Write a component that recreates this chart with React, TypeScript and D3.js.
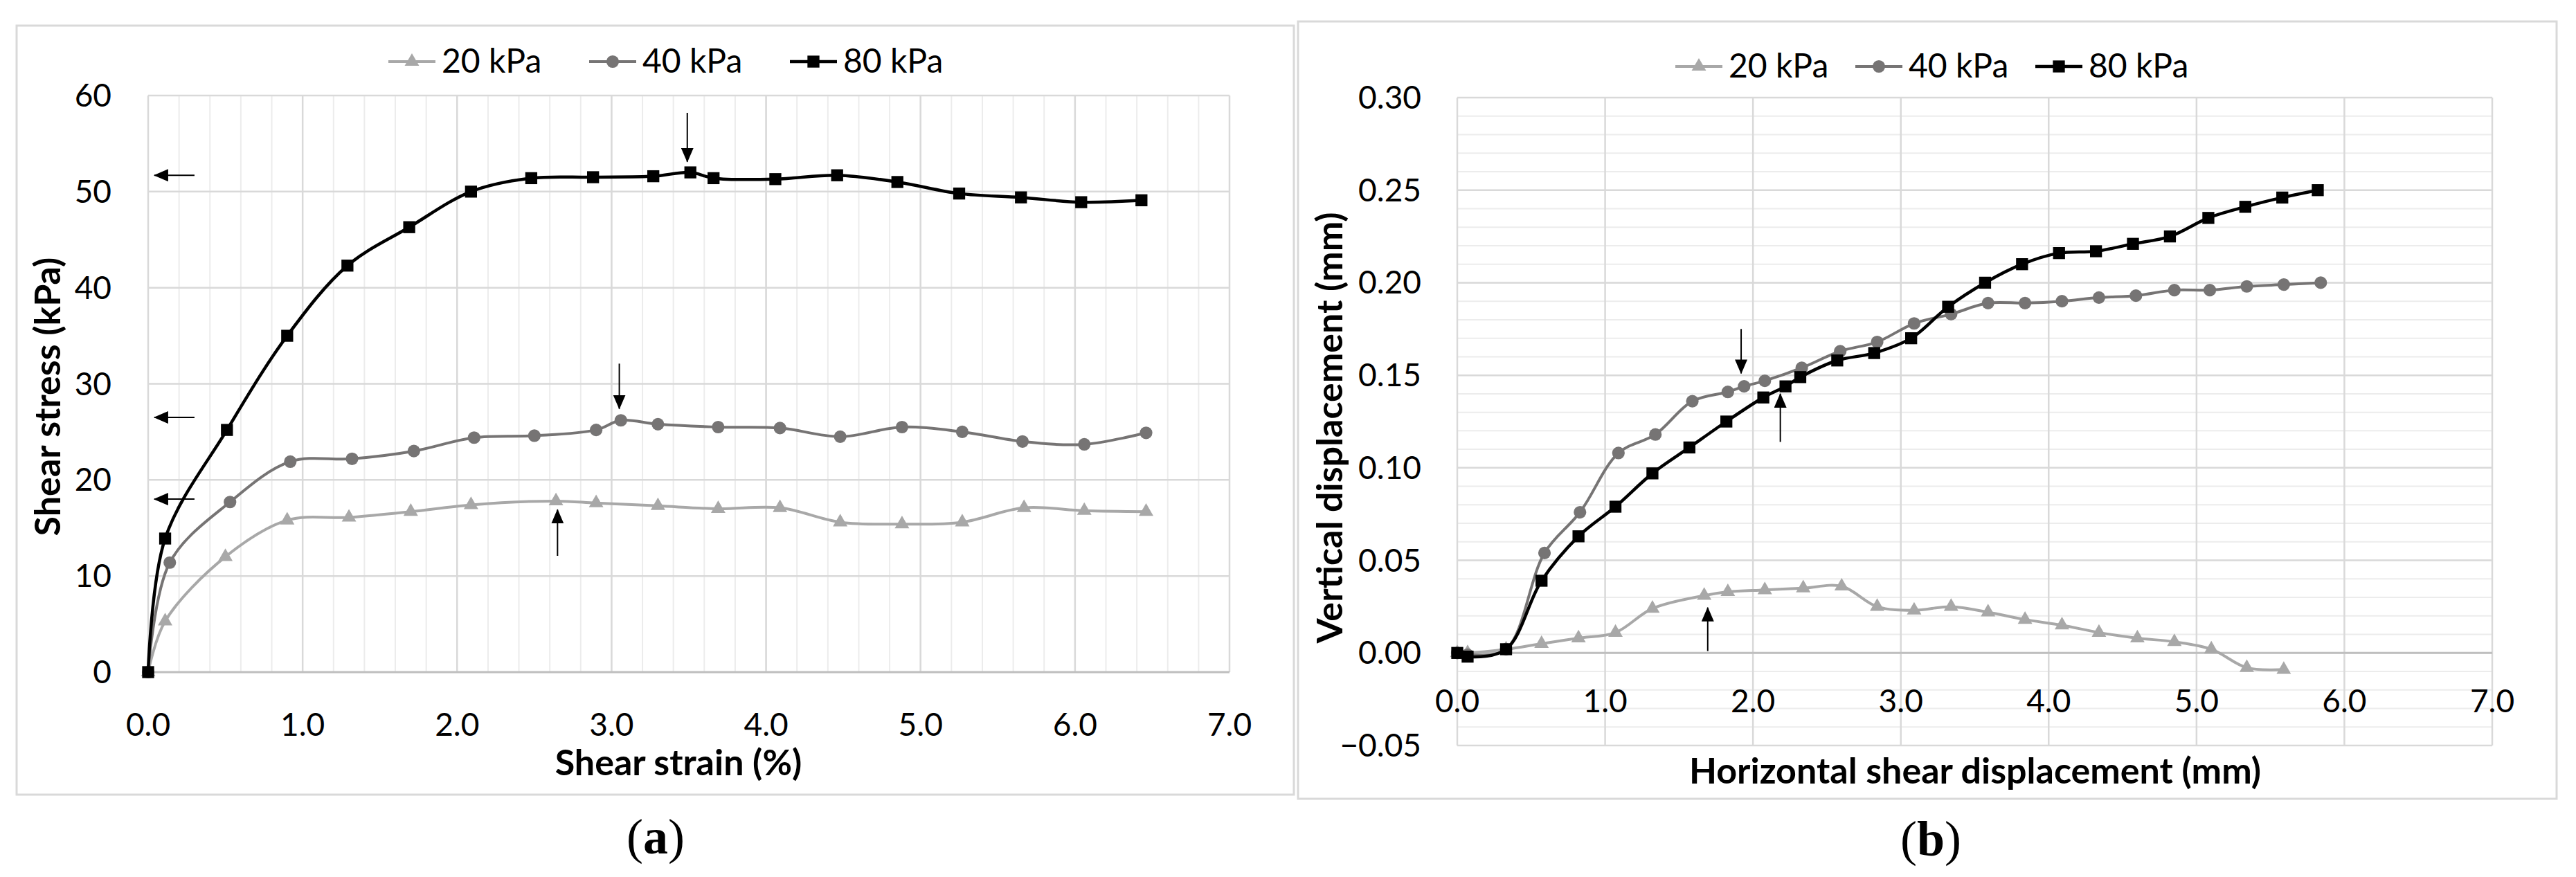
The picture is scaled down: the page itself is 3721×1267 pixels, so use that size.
import React from 'react';
import * as d3 from 'd3';

const W = 3721;
const H = 1267;

// ---------- Panel (a): shear stress vs shear strain ----------
const aStrain80 = [0, 0.11, 0.51, 0.90, 1.29, 1.69, 2.09, 2.48, 2.88, 3.27, 3.51, 3.66, 4.06, 4.46, 4.85, 5.25, 5.65, 6.04, 6.43];
const aStress80 = [0, 13.9, 25.2, 35.0, 42.3, 46.3, 50.0, 51.4, 51.5, 51.6, 52.0, 51.4, 51.3, 51.7, 51.0, 49.8, 49.4, 48.9, 49.1];

const aStrain40 = [0, 0.14, 0.53, 0.92, 1.32, 1.72, 2.11, 2.50, 2.90, 3.06, 3.30, 3.69, 4.09, 4.48, 4.88, 5.27, 5.66, 6.06, 6.46];
const aStress40 = [0, 11.4, 17.7, 21.9, 22.2, 23.0, 24.4, 24.6, 25.2, 26.2, 25.8, 25.5, 25.4, 24.5, 25.5, 25.0, 24.0, 23.7, 24.9];

const aStrain20 = [0, 0.11, 0.50, 0.90, 1.30, 1.70, 2.09, 2.64, 2.90, 3.30, 3.69, 4.09, 4.48, 4.88, 5.27, 5.67, 6.06, 6.46];
const aStress20 = [0, 5.3, 12.0, 15.8, 16.1, 16.7, 17.4, 17.8, 17.6, 17.3, 17.0, 17.1, 15.6, 15.4, 15.6, 17.1, 16.8, 16.7];

const aXTickLabels = ['0.0', '1.0', '2.0', '3.0', '4.0', '5.0', '6.0', '7.0'];
const aYTickLabels = ['0', '10', '20', '30', '40', '50', '60'];

// annotation arrows of panel (a): [x1, y1, x2, y2] in data units (tail -> tip)
const aArrows = [
  [0.30, 51.7, 0.04, 51.7],
  [0.30, 26.5, 0.04, 26.5],
  [0.30, 18.0, 0.04, 18.0],
  [3.49, 58.2, 3.49, 53.1],
  [3.05, 32.1, 3.05, 27.4],
  [2.65, 12.1, 2.65, 16.9],
];

// ---------- Panel (b): vertical vs horizontal displacement ----------
const bDisp80 = [0, 0.07, 0.33, 0.57, 0.82, 1.07, 1.32, 1.57, 1.82, 2.07, 2.22, 2.32, 2.57, 2.82, 3.07, 3.32, 3.57, 3.82, 4.07, 4.32, 4.57, 4.82, 5.08, 5.33, 5.58, 5.82];
const bVert80 = [0, -0.002, 0.002, 0.039, 0.063, 0.079, 0.097, 0.111, 0.125, 0.138, 0.144, 0.149, 0.158, 0.162, 0.170, 0.187, 0.200, 0.210, 0.216, 0.217, 0.221, 0.225, 0.235, 0.241, 0.246, 0.250];

const bDisp40 = [0, 0.07, 0.33, 0.59, 0.83, 1.09, 1.34, 1.59, 1.83, 1.94, 2.08, 2.33, 2.59, 2.84, 3.09, 3.34, 3.59, 3.84, 4.09, 4.34, 4.59, 4.85, 5.09, 5.34, 5.59, 5.84];
const bVert40 = [0, -0.001, 0.002, 0.054, 0.076, 0.108, 0.118, 0.136, 0.141, 0.144, 0.147, 0.154, 0.163, 0.168, 0.178, 0.183, 0.189, 0.189, 0.190, 0.192, 0.193, 0.196, 0.196, 0.198, 0.199, 0.200];

const bDisp20 = [0, 0.07, 0.33, 0.57, 0.82, 1.07, 1.32, 1.67, 1.83, 2.08, 2.34, 2.60, 2.84, 3.09, 3.34, 3.59, 3.84, 4.09, 4.34, 4.60, 4.85, 5.10, 5.34, 5.59];
const bVert20 = [0, 0.000, 0.002, 0.005, 0.008, 0.011, 0.024, 0.031, 0.033, 0.034, 0.035, 0.036, 0.025, 0.023, 0.025, 0.022, 0.018, 0.015, 0.011, 0.008, 0.006, 0.002, -0.008, -0.009];

const bXTickLabels = ['0.0', '1.0', '2.0', '3.0', '4.0', '5.0', '6.0', '7.0'];
const bYTickLabels = ['\u22120.05', '0.00', '0.05', '0.10', '0.15', '0.20', '0.25', '0.30'];

const bArrows = [
  [1.92, 0.175, 1.92, 0.151],
  [2.185, 0.114, 2.185, 0.140],
  [1.694, 0.001, 1.694, 0.0245],
];

// ---------- series styling ----------
const seriesNames = ['20 kPa', '40 kPa', '80 kPa'];
const seriesColors = ['#a8a8a8', '#767474', '#000000'];
const seriesSymbols = [d3.symbolTriangle, d3.symbolCircle, d3.symbolSquare];
const symbolSizes = [190, 260, 300];
const lineWidths = [4, 4, 4.5];

const FONT = 'Lato, "Open Sans", sans-serif';
const TICK_SIZE = 46;
const TITLE_SIZE = 52;
const LEGEND_SIZE = 48;

type Series = { xs: number[]; ys: number[] };

type PanelCfg = {
  id: string;
  frame: [number, number, number, number];
  plot: [number, number, number, number]; // x0, y0, x1, y1
  xDomain: [number, number];
  yDomain: [number, number];
  xMajor: number[];
  yMajor: number[];
  xMinorCount: number;
  yMinorCount: number;
  xLabels: string[];
  yLabels: string[];
  axisAtZero: boolean;
  yLabelRight: number;
  xLabelBaseline: number;
  xTitle: string;
  xTitlePos: [number, number];
  yTitle: string;
  yTitlePos: [number, number];
  legendX: number;
  legendY: number;
  legendStep: number;
  caption: string;
  captionPos: [number, number];
  series: Series[];
  arrows: number[][];
};

const panels: PanelCfg[] = [
  {
    id: 'a',
    frame: [24, 37, 1845, 1111],
    plot: [214, 138, 1776, 971],
    xDomain: [0, 7],
    yDomain: [0, 60],
    xMajor: [0, 1, 2, 3, 4, 5, 6, 7],
    yMajor: [0, 10, 20, 30, 40, 50, 60],
    xMinorCount: 35,
    yMinorCount: 0,
    xLabels: aXTickLabels,
    yLabels: aYTickLabels,
    axisAtZero: false,
    yLabelRight: 161,
    xLabelBaseline: 1063,
    xTitle: 'Shear strain (%)',
    xTitlePos: [980, 1120],
    yTitle: 'Shear stress (kPa)',
    yTitlePos: [67, 573],
    legendX: 561,
    legendY: 89,
    legendStep: 290,
    caption: 'a',
    captionPos: [947, 1233],
    series: [
      { xs: aStrain20, ys: aStress20 },
      { xs: aStrain40, ys: aStress40 },
      { xs: aStrain80, ys: aStress80 },
    ],
    arrows: aArrows,
  },
  {
    id: 'b',
    frame: [1875, 31, 1818, 1123],
    plot: [2105, 141, 3600, 1077],
    xDomain: [0, 7],
    yDomain: [-0.05, 0.3],
    xMajor: [0, 1, 2, 3, 4, 5, 6, 7],
    yMajor: [-0.05, 0, 0.05, 0.1, 0.15, 0.2, 0.25, 0.3],
    xMinorCount: 0,
    yMinorCount: 35,
    xLabels: bXTickLabels,
    yLabels: bYTickLabels,
    axisAtZero: true,
    yLabelRight: 2053,
    xLabelBaseline: 1029,
    xTitle: 'Horizontal shear displacement (mm)',
    xTitlePos: [2853, 1132],
    yTitle: 'Vertical displacement (mm)',
    yTitlePos: [1919, 618],
    legendX: 2420,
    legendY: 96,
    legendStep: 260,
    caption: 'b',
    captionPos: [2789, 1236],
    series: [
      { xs: bDisp20, ys: bVert20 },
      { xs: bDisp40, ys: bVert40 },
      { xs: bDisp80, ys: bVert80 },
    ],
    arrows: bArrows,
  },
];

function Panel({ cfg }: { cfg: PanelCfg }) {
  const [px0, py0, px1, py1] = cfg.plot;
  const x = d3.scaleLinear().domain(cfg.xDomain).range([px0, px1]);
  const y = d3.scaleLinear().domain(cfg.yDomain).range([py1, py0]);
  const line = d3
    .line<[number, number]>()
    .x((d) => x(d[0]))
    .y((d) => y(d[1]))
    .curve(d3.curveCatmullRom.alpha(0.5));

  const xMinor = cfg.xMinorCount ? x.ticks(cfg.xMinorCount) : [];
  const yMinor = cfg.yMinorCount ? y.ticks(cfg.yMinorCount) : [];
  const zeroY = cfg.axisAtZero ? y(0) : py1;

  return (
    <g>
      <rect
        x={cfg.frame[0]}
        y={cfg.frame[1]}
        width={cfg.frame[2]}
        height={cfg.frame[3]}
        fill="#fff"
        stroke="#d9d9d9"
        strokeWidth={3}
      />
      {xMinor.map((v, i) => (
        <line key={'xm' + i} x1={x(v)} x2={x(v)} y1={py0} y2={py1} stroke="#ececec" strokeWidth={2} />
      ))}
      {yMinor.map((v, i) => (
        <line key={'ym' + i} x1={px0} x2={px1} y1={y(v)} y2={y(v)} stroke="#ececec" strokeWidth={2} />
      ))}
      {cfg.xMajor.map((v, i) => (
        <line key={'xM' + i} x1={x(v)} x2={x(v)} y1={py0} y2={py1} stroke="#d9d9d9" strokeWidth={2.5} />
      ))}
      {cfg.yMajor.map((v, i) => (
        <line key={'yM' + i} x1={px0} x2={px1} y1={y(v)} y2={y(v)} stroke="#d9d9d9" strokeWidth={2.5} />
      ))}
      <line x1={px0} x2={px1} y1={zeroY} y2={zeroY} stroke="#bfbfbf" strokeWidth={3} />

      {cfg.yMajor.map((v, i) => (
        <text
          key={'yl' + i}
          x={cfg.yLabelRight}
          y={y(v) + 16}
          textAnchor="end"
          fontFamily={FONT}
          fontSize={TICK_SIZE}
          fill="#000"
        >
          {cfg.yLabels[i]}
        </text>
      ))}
      {cfg.xMajor.map((v, i) => (
        <text
          key={'xl' + i}
          x={x(v)}
          y={cfg.xLabelBaseline}
          textAnchor="middle"
          fontFamily={FONT}
          fontSize={TICK_SIZE}
          fill="#000"
        >
          {cfg.xLabels[i]}
        </text>
      ))}

      <text
        x={cfg.xTitlePos[0]}
        y={cfg.xTitlePos[1]}
        textAnchor="middle"
        fontFamily={FONT}
        fontWeight="bold"
        fontSize={TITLE_SIZE}
        fill="#000"
      >
        {cfg.xTitle}
      </text>
      <text
        transform={`translate(${cfg.yTitlePos[0]},${cfg.yTitlePos[1]}) rotate(-90)`}
        textAnchor="middle"
        dominantBaseline="central"
        fontFamily={FONT}
        fontWeight="bold"
        fontSize={TITLE_SIZE}
        fill="#000"
      >
        {cfg.yTitle}
      </text>

      {cfg.series.map((s, si) => {
        const pts: [number, number][] = s.xs.map((xv, k) => [xv, s.ys[k]]);
        const sym = d3.symbol().type(seriesSymbols[si]).size(symbolSizes[si])();
        return (
          <g key={'s' + si}>
            <path d={line(pts) || ''} fill="none" stroke={seriesColors[si]} strokeWidth={lineWidths[si]} strokeLinejoin="round" />
            {pts.map((p, k) => (
              <path key={k} d={sym || ''} transform={`translate(${x(p[0])},${y(p[1])})`} fill={seriesColors[si]} />
            ))}
          </g>
        );
      })}

      {cfg.arrows.map((a, i) => (
        <line
          key={'ar' + i}
          x1={x(a[0])}
          y1={y(a[1])}
          x2={x(a[2])}
          y2={y(a[3])}
          stroke="#000"
          strokeWidth={2}
          markerEnd="url(#arrowHead)"
        />
      ))}

      {seriesNames.map((name, si) => {
        const lx = cfg.legendX + si * cfg.legendStep;
        const sym = d3.symbol().type(seriesSymbols[si]).size(symbolSizes[si])();
        return (
          <g key={'lg' + si}>
            <line x1={lx} x2={lx + 68} y1={cfg.legendY} y2={cfg.legendY} stroke={seriesColors[si]} strokeWidth={lineWidths[si]} />
            <path d={sym || ''} transform={`translate(${lx + 34},${cfg.legendY})`} fill={seriesColors[si]} />
            <text x={lx + 77} y={cfg.legendY + 16} fontFamily={FONT} fontSize={LEGEND_SIZE} fill="#000">
              {name}
            </text>
          </g>
        );
      })}

      <text
        x={cfg.captionPos[0]}
        y={cfg.captionPos[1]}
        textAnchor="middle"
        fontFamily='"Liberation Serif", "DejaVu Serif", serif'
        fontSize={72}
        fill="#000"
      >
        (<tspan fontWeight="bold">{cfg.caption}</tspan>)
      </text>
    </g>
  );
}

export default function App() {
  return (
    <svg
      width={W}
      height={H}
      viewBox={`0 0 ${W} ${H}`}
      style={{ position: 'absolute', left: 0, top: 0, display: 'block', background: '#fff' }}
    >
      <defs>
        <marker
          id="arrowHead"
          markerUnits="userSpaceOnUse"
          markerWidth={21}
          markerHeight={18}
          refX={20}
          refY={9}
          orient="auto"
        >
          <path d="M0,0 L21,9 L0,18 Z" fill="#000" />
        </marker>
      </defs>
      <rect x={0} y={0} width={W} height={H} fill="#fff" />
      {panels.map((p) => (
        <Panel key={p.id} cfg={p} />
      ))}
    </svg>
  );
}
